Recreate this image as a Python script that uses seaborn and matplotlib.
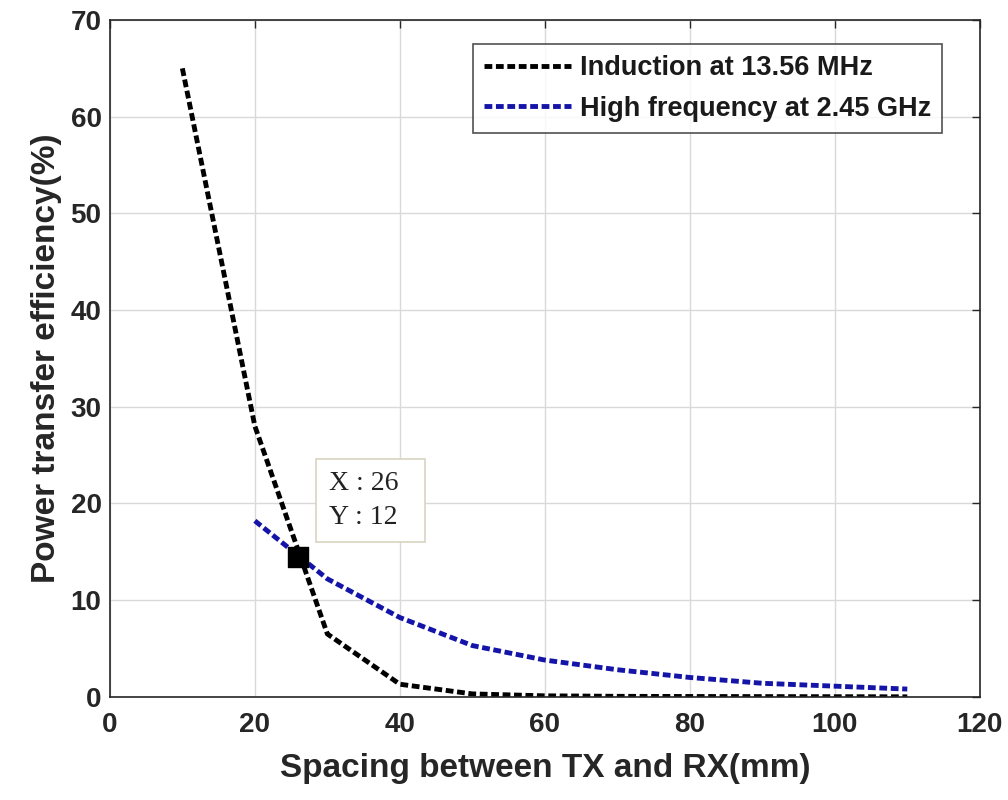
import matplotlib
matplotlib.use("Agg")
import matplotlib.pyplot as plt
import seaborn as sns
import pandas as pd

# Data
induction_x = [10, 20, 30, 40, 50, 60, 70, 80, 90, 100, 110]
induction_y = [65, 28, 6.5, 1.3, 0.3, 0.1, 0.05, 0.03, 0.02, 0.01, 0.0]
highfreq_x = [20, 30, 40, 50, 60, 70, 80, 90, 100, 110]
highfreq_y = [18.2, 12.2, 8.2, 5.3, 3.8, 2.8, 2.0, 1.4, 1.1, 0.8]
series_names = ["Induction at 13.56 MHz", "High frequency at 2.45 GHz"]
tip_x = [26]
tip_y = [14.5]
tip_text = "X : 26  \nY : 12  "
x_ticks = [0, 20, 40, 60, 80, 100, 120]
y_ticks = [0, 10, 20, 30, 40, 50, 60, 70]

sns.set_style("whitegrid")
plt.rcParams['font.family'] = ['Liberation Sans', 'DejaVu Sans']

df = pd.concat([
    pd.DataFrame({"x": induction_x, "y": induction_y, "series": series_names[0]}),
    pd.DataFrame({"x": highfreq_x, "y": highfreq_y, "series": series_names[1]}),
])

fig = plt.figure(figsize=(10.08, 8), dpi=100)
ax = fig.add_axes([0.109, 0.129, 0.863, 0.846])

LW = 3.5
DASH = [1.6, 0.75]
sns.lineplot(data=df, x="x", y="y", hue="series", ax=ax,
             palette={series_names[0]: "black", series_names[1]: "#1414a8"},
             linewidth=LW, sort=False, estimator=None)
for line in ax.lines:
    line.set_dashes(DASH)
    line.set_dash_capstyle("butt")

ax.set_xlim(0, 120)
ax.set_ylim(0, 70)
ax.set_xticks(x_ticks)
ax.set_yticks(y_ticks)
ax.grid(True, color="#d9d9d9", linewidth=1)
for s in ax.spines.values():
    s.set_color("#262626")
    s.set_linewidth(1.2)
    s.set_visible(True)
ax.tick_params(direction="in", length=6, width=1, color="#262626",
               top=True, right=True)
ax.tick_params(axis="x", labelsize=20, pad=11)
ax.tick_params(axis="y", labelsize=20, pad=6)
for lab in ax.get_xticklabels() + ax.get_yticklabels():
    lab.set_fontweight("bold")
    lab.set_color("#262626")

ax.set_xlabel("Spacing between TX and RX(mm)", fontsize=24, fontweight="bold",
              color="#262626", labelpad=11)
ax.set_ylabel("Power transfer efficiency(%)", fontsize=24, fontweight="bold",
              color="#262626", labelpad=6)

leg = ax.legend(loc="upper right", bbox_to_anchor=(0.957, 0.965),
                borderaxespad=0, fontsize=19.5, frameon=True, fancybox=False,
                handlelength=3.2, handletextpad=0.33, borderpad=0.42, labelspacing=0.55)
leg.get_frame().set_edgecolor("#262626")
leg.get_frame().set_linewidth(1.2)
for t in leg.get_texts():
    t.set_fontweight("bold")
    t.set_color("#1a1a1a")
for h in leg.get_lines():
    h.set_linewidth(LW)
    h.set_dashes(DASH)

# data tip marker
ax.scatter(tip_x, tip_y, marker="s", s=220, color="black", zorder=5)
ax.annotate(tip_text, xy=(tip_x[0], tip_y[0]), xytext=(30.2, 20.3),
            fontsize=20, family=["Liberation Serif", "DejaVu Serif"],
            color="#222222", va="center", ha="left", linespacing=1.45,
            bbox=dict(boxstyle="square,pad=0.45", fc="white", ec="#d8d4c0", lw=1.2))

fig.savefig("out.png", dpi=100)
